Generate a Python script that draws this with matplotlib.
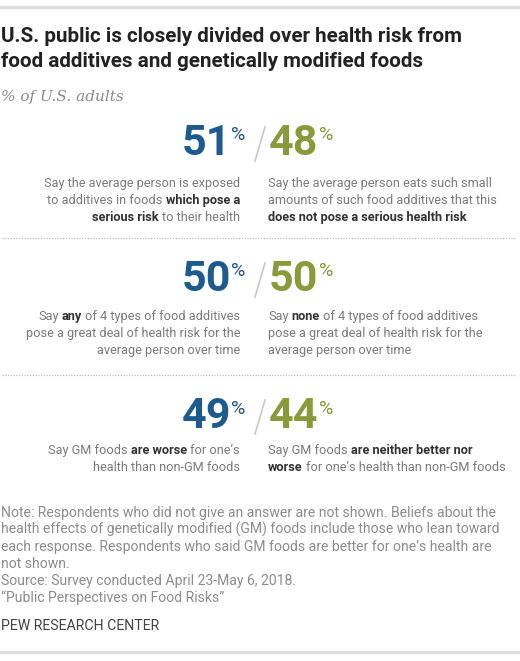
import matplotlib
matplotlib.use("Agg")
import matplotlib.pyplot as plt

# values
left_pct = [51, 50, 49]
right_pct = [48, 50, 44]

# each description line is a list of (text, bold) pieces, joined by a space
left_desc = [
    [[("Say the average person is exposed", False)],
     [("to additives in foods", False), ("which pose a", True)],
     [("serious risk", True), ("to their health", False)]],
    [[("Say", False), ("any", True), ("of 4 types of food additives", False)],
     [("pose a great deal of health risk for the", False)],
     [("average person over time", False)]],
    [[("Say GM foods", False), ("are worse", True), ("for one\u2019s", False)],
     [("health than non-GM foods", False)]],
]
right_desc = [
    [[("Say the average person eats such small", False)],
     [("amounts of such food additives that this", False)],
     [("does not pose a serious health risk", True)]],
    [[("Say", False), ("none", True), ("of 4 types of food additives", False)],
     [("pose a great deal of health risk for the", False)],
     [("average person over time", False)]],
    [[("Say GM foods", False), ("are neither better nor", True)],
     [("worse", True), ("for one\u2019s health than non-GM foods", False)]],
]

title_lines = ["U.S. public is closely divided over health risk from",
               "food additives and genetically modified foods"]
subtitle = "% of U.S. adults"
note_lines = [
    "Note: Respondents who did not give an answer are not shown. Beliefs about the",
    "health effects of genetically modified (GM) foods include those who lean toward",
    "each response. Respondents who said GM foods are better for one\u2019s health are",
    "not shown.",
    "Source: Survey conducted April 23-May 6, 2018.",
    "\u201cPublic Perspectives on Food Risks\u201d",
]
credit = "PEW RESEARCH CENTER"

BLUE = "#1d5a8e"
GREEN = "#8a9a3a"
FONT = "Roboto"

fig = plt.figure(figsize=(5.2, 6.61), dpi=100)
ax = fig.add_axes([0, 0, 1, 1])
ax.set_xlim(0, 520)
ax.set_ylim(661, 0)
ax.axis("off")
renderer = fig.canvas.get_renderer()


def text_width(s, **kw):
    t = ax.text(0, 0, s, **kw)
    w = t.get_window_extent(renderer).width
    t.remove()
    return w


def seg_line(x, y, parts, ha, size=9.2):
    kw_reg = dict(fontsize=size, family=FONT, color="#7a7a7a")
    kw_bold = dict(fontsize=size, family=FONT, color="#333333", fontweight="bold")
    space = text_width("a a", **kw_reg) - text_width("aa", **kw_reg)
    widths = [text_width(s, **(kw_bold if b else kw_reg)) for s, b in parts]
    total = sum(widths) + space * (len(parts) - 1)
    cur = x - total if ha == "right" else x
    for (s, b), w in zip(parts, widths):
        ax.text(cur, y, s, ha="left", va="baseline", **(kw_bold if b else kw_reg))
        cur += w + space


# frame lines
ax.plot([0, 520], [7, 7], color="#dddddd", lw=2.5)
ax.plot([0, 520], [652, 652], color="#dddddd", lw=2.5)

# title and subtitle
for i, line in enumerate(title_lines):
    ax.text(1, 42 + i * 25, line, fontsize=14.9, family=FONT, fontweight="bold",
            color="#222222", va="baseline")
ax.text(1, 101, subtitle, fontsize=11, family="DejaVu Serif", style="italic",
        color="#8a8a8a", va="baseline")

# three blocks
num_base = [155, 291, 428]
desc_start = [187, 320, 454]
line_gap = 16.8
for k in range(3):
    yb = num_base[k]
    xl = 231
    ax.text(xl, yb, str(left_pct[k]), fontsize=31, family=FONT, fontweight="bold",
            color=BLUE, ha="right", va="baseline")
    ax.text(xl + 0.5, yb - 28.5, "%", fontsize=14, family=FONT, color=BLUE,
            ha="left", va="top")
    ax.plot([265, 255], [yb - 28, yb + 6], color="#c9c9c9", lw=1.2)
    xr = 269
    t = ax.text(xr, yb, str(right_pct[k]), fontsize=31, family=FONT, fontweight="bold",
                color=GREEN, ha="left", va="baseline")
    w = t.get_window_extent(renderer).width
    ax.text(xr + w + 0.5, yb - 28.5, "%", fontsize=14, family=FONT, color=GREEN,
            ha="left", va="top")
    for j, parts in enumerate(left_desc[k]):
        seg_line(240, desc_start[k] + j * line_gap, parts, "right")
    for j, parts in enumerate(right_desc[k]):
        seg_line(268, desc_start[k] + j * line_gap, parts, "left")

# dotted separators
for ys in [238, 375]:
    ax.plot([2, 515], [ys, ys], color="#bbbbbb", lw=0.9, linestyle=(0, (1, 1.2)))

# notes
for i, line in enumerate(note_lines):
    ax.text(1, 517 + i * 17, line, fontsize=10.1, family=FONT, color="#8c8c8c",
            va="baseline")
ax.text(1, 630, credit, fontsize=10.2, family=FONT, color="#444444", va="baseline")

fig.savefig("out.png", dpi=100)
